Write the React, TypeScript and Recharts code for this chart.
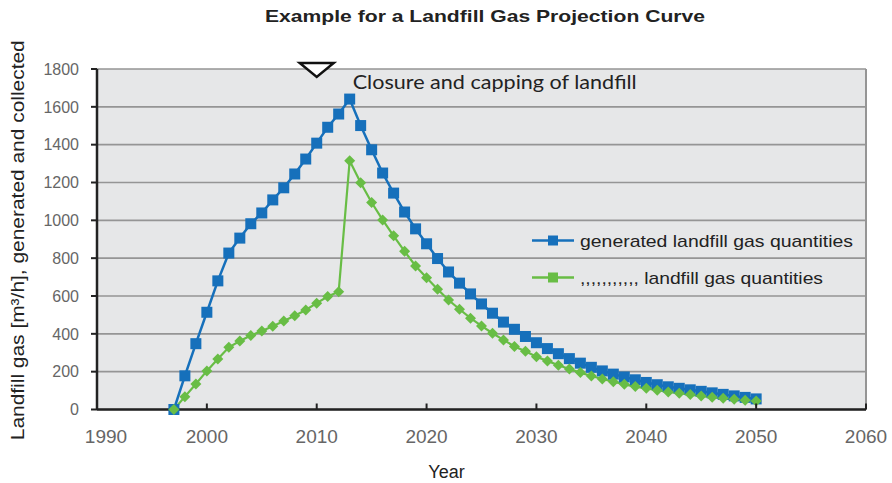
import React from "react";
import {
  LineChart, Line, XAxis, YAxis, CartesianGrid, Legend, ReferenceDot, ReferenceLine,
} from "recharts";

/* ── Data ───────────────────────────────────────────── */

const years = [
  1997, 1998, 1999, 2000, 2001, 2002, 2003, 2004, 2005, 2006,
  2007, 2008, 2009, 2010, 2011, 2012, 2013, 2014, 2015, 2016,
  2017, 2018, 2019, 2020, 2021, 2022, 2023, 2024, 2025, 2026,
  2027, 2028, 2029, 2030, 2031, 2032, 2033, 2034, 2035, 2036,
  2037, 2038, 2039, 2040, 2041, 2042, 2043, 2044, 2045, 2046,
  2047, 2048, 2049, 2050,
];

const generated = [
  0, 178, 348, 514, 680, 827, 906, 982, 1039, 1108,
  1172, 1245, 1324, 1408, 1492, 1562, 1641, 1501, 1373, 1250,
  1144, 1044, 955, 876, 798, 727, 668, 611, 558, 509,
  462, 424, 386, 353, 322, 295, 269, 245, 223, 204,
  187, 172, 157, 143, 131, 120, 112, 104, 96, 88,
  80, 72, 64, 56,
];

const collected = [
  0, 68, 135, 204, 267, 329, 362, 391, 415, 440,
  468, 496, 526, 562, 597, 623, 1315, 1199, 1094, 1002,
  918, 836, 759, 697, 636, 579, 530, 483, 442, 403,
  368, 333, 308, 279, 257, 234, 214, 195, 177, 161,
  147, 133, 121, 112, 102, 93, 86, 79, 71, 65,
  59, 54, 49, 45,
];

const xTicks = [1990, 2000, 2010, 2020, 2030, 2040, 2050, 2060];
const yTicks = [0, 200, 400, 600, 800, 1000, 1200, 1400, 1600, 1800];

const title = "Example for a Landfill Gas Projection Curve";
const closureYear = 2010;
const closureText = "Closure and capping of landfill";
const legendLabels = [
  "generated landfill gas quantities",
  ",,,,,,,,,,, landfill gas quantities",
];

const data = years.map((year, i) => ({
  year,
  generated: generated[i],
  collected: collected[i],
}));

/* ── Style ──────────────────────────────────────────── */

const BLUE = "#1670bb";
const GREEN = "#68bd45";
const GRID = "#959595";
const BG = "#e6e7e8";
const FONT = "'Liberation Sans', Arial, sans-serif";

// the source picture is stretched sideways, so texts get fixed widths
const legendWidths = [273, 243];

/* ── Marks ──────────────────────────────────────────── */

function SquareDot(props: any) {
  const { cx, cy, index } = props;
  if (cx == null || cy == null) return null;
  return <rect key={`sq-${index}`} x={cx - 5.5} y={cy - 5.5} width={11} height={11} fill={BLUE} />;
}

function DiamondDot(props: any) {
  const { cx, cy, index } = props;
  if (cx == null || cy == null) return null;
  const r = 5.5;
  return (
    <path
      key={`dm-${index}`}
      d={`M${cx},${cy - r}L${cx + r},${cy}L${cx},${cy + r}L${cx - r},${cy}Z`}
      fill={GREEN}
    />
  );
}

function XTick(props: any) {
  const { x, y, payload, index } = props;
  // first label sits a little right of its tick, clear of the y axis
  const dx = index === 0 ? 9 : 0;
  return (
    <g>
      <line x1={x} x2={x} y1={y} y2={y - 6} stroke="#222" strokeWidth={2} />
      <text x={x + dx} y={y + 33.5} textAnchor="middle" fill="#666" fontSize={19} fontFamily={FONT}>
        {payload.value}
      </text>
    </g>
  );
}

function ClosureMark(props: any) {
  const { cx, cy } = props;
  if (cx == null || cy == null) return null;
  return (
    <g>
      <path
        d={`M${cx - 17},${cy - 6}L${cx + 17},${cy - 6}L${cx},${cy + 8}Z`}
        fill="#fff"
        stroke="#111"
        strokeWidth={2.5}
      />
      <text
        x={cx + 36}
        y={cy + 19.5}
        fill="#222"
        fontSize={20}
        fontFamily="Lato, 'Open Sans', sans-serif"
        textLength={284}
        lengthAdjust="spacingAndGlyphs"
      >
        {closureText}
      </text>
    </g>
  );
}

function LegendBox() {
  const colors = [BLUE, GREEN];
  return (
    <svg width={340} height={74} style={{ display: "block" }}>
      {legendLabels.map((label, i) => {
        const y = 18.5 + i * 37;
        return (
          <g key={label}>
            <line x1={0} x2={42} y1={y} y2={y} stroke={colors[i]} strokeWidth={2.5} />
            <rect x={16} y={y - 5} width={10} height={10} fill={colors[i]} />
            <text
              x={48}
              y={y + 6}
              fill="#222"
              fontSize={17}
              fontFamily={FONT}
              textLength={legendWidths[i]}
              lengthAdjust="spacingAndGlyphs"
            >
              {label}
            </text>
          </g>
        );
      })}
    </svg>
  );
}

/* ── Chart ──────────────────────────────────────────── */

export default function App() {
  return (
    <div style={{ position: "absolute", left: 0, top: 0, width: 892, height: 483, background: "#fff" }}>
      <svg width={892} height={40} style={{ position: "absolute", left: 0, top: 0 }}>
        <text
          x={265}
          y={22}
          fill="#222"
          fontSize={16.5}
          fontWeight={700}
          fontFamily={FONT}
          textLength={440}
          lengthAdjust="spacingAndGlyphs"
        >
          {title}
        </text>
      </svg>
      <LineChart
        width={892}
        height={483}
        data={data}
        margin={{ top: 69, right: 26, left: 57, bottom: 43.5 }}
      >
        <CartesianGrid
          vertical={false}
          stroke={GRID}
          strokeWidth={1.6}
          fill={BG}
          fillOpacity={1}
        />
        <XAxis
          dataKey="year"
          type="number"
          domain={[1990, 2060]}
          ticks={xTicks}
          interval={0}
          height={30}
          tickSize={0}
          tickMargin={0}
          tickLine={false}
          axisLine={{ stroke: "#222", strokeWidth: 2.5 }}
          tick={<XTick />}
          label={{
            content: (p: any) => {
              const vb = p.viewBox;
              return (
                <text
                  x={vb.x + vb.width / 2 - 35}
                  y={vb.y + 68}
                  textAnchor="middle"
                  fill="#222"
                  fontSize={18}
                  fontFamily={FONT}
                >
                  Year
                </text>
              );
            },
          }}
        />
        <YAxis
          type="number"
          domain={[0, 1800]}
          ticks={yTicks}
          interval={0}
          width={40}
          tickSize={6}
          tickMargin={12}
          tick={{ fill: "#666", fontSize: 16, fontFamily: FONT }}
          tickLine={{ stroke: "#222", strokeWidth: 2 }}
          axisLine={{ stroke: "#222", strokeWidth: 2.5 }}
          label={{
            content: (p: any) => {
              const vb = p.viewBox;
              const lx = 17;
              const ly = vb.y + vb.height / 2 + 1;
              return (
                <text
                  x={lx}
                  y={ly}
                  transform={`rotate(-90 ${lx} ${ly})`}
                  textAnchor="middle"
                  dominantBaseline="central"
                  fill="#222"
                  fontSize={19}
                  fontFamily={FONT}
                  textLength={400}
                  lengthAdjust="spacingAndGlyphs"
                >
                  Landfill gas [m³/h], generated and collected
                </text>
              );
            },
          }}
        />
        <ReferenceLine x={2060} stroke={GRID} strokeWidth={2} />
        <Line
          dataKey="generated"
          stroke={BLUE}
          strokeWidth={2.5}
          dot={SquareDot}
          activeDot={false}
          isAnimationActive={false}
        />
        <Line
          dataKey="collected"
          stroke={GREEN}
          strokeWidth={2.2}
          dot={DiamondDot}
          activeDot={false}
          isAnimationActive={false}
        />
        <ReferenceDot x={closureYear} y={1800} shape={ClosureMark} ifOverflow="visible" />
        <Legend
          layout="vertical"
          align="center"
          verticalAlign="middle"
          wrapperStyle={{ left: 532, top: 222, width: 340 }}
          content={() => <LegendBox />}
        />
      </LineChart>
    </div>
  );
}
